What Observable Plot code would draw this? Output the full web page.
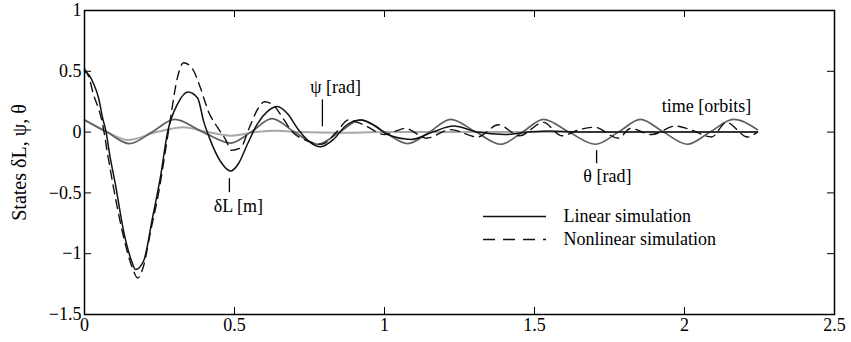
<!DOCTYPE html>
<html><head><meta charset="utf-8">
<script src="https://cdn.jsdelivr.net/npm/d3@7"></script>
<script src="https://cdn.jsdelivr.net/npm/@observablehq/plot@0.6"></script>
<style>
body{margin:0;background:#fff;}
#chart{width:851px;height:342px;}
</style>
</head><body><div id="chart"></div>
<script>
// ---- data ----
const xTicks = [0, 0.5, 1, 1.5, 2, 2.5];
const yTicks = [-1.5, -1, -0.5, 0, 0.5, 1];

// δL, linear simulation (black solid)
const dLLinT = [0, 0.015, 0.03, 0.047, 0.06, 0.072, 0.085, 0.103, 0.13, 0.16, 0.17, 0.197, 0.227, 0.253, 0.277, 0.31, 0.345, 0.377, 0.397, 0.42, 0.453, 0.487, 0.513, 0.543, 0.577, 0.61, 0.643, 0.677, 0.71, 0.75, 0.787, 0.83, 0.87, 0.92, 0.97, 1.01, 1.09, 1.16, 1.23, 1.31, 1.40, 1.48, 1.55, 1.65, 2.243];
const dLLinV = [0.5, 0.47, 0.4, 0.28, 0.12, 0.0, -0.2, -0.43, -0.81, -1.08, -1.13, -1.06, -0.7, -0.37, 0.0, 0.23, 0.33, 0.28, 0.09, -0.07, -0.24, -0.32, -0.26, -0.1, 0.07, 0.17, 0.21, 0.15, 0.03, -0.08, -0.12, -0.06, 0.05, 0.1, 0.05, -0.02, -0.06, 0.0, 0.05, 0.0, -0.02, 0.0, 0.01, 0.0, 0.0];

// δL, nonlinear simulation (black dashed)
const dLNonT = [0, 0.015, 0.03, 0.047, 0.06, 0.077, 0.1, 0.13, 0.16, 0.177, 0.197, 0.22, 0.247, 0.27, 0.287, 0.31, 0.33, 0.36, 0.387, 0.413, 0.443, 0.47, 0.49, 0.52, 0.55, 0.58, 0.60, 0.63, 0.66, 0.69, 0.74, 0.79, 0.84, 0.88, 0.93, 1.0, 1.07, 1.14, 1.22, 1.31, 1.38, 1.45, 1.53, 1.59, 1.65, 1.70, 1.78, 1.82, 1.89, 1.97, 2.02, 2.09, 2.14, 2.21, 2.243];
const dLNonV = [0.52, 0.45, 0.31, 0.19, 0.07, -0.18, -0.5, -0.86, -1.12, -1.2, -1.1, -0.82, -0.5, -0.15, 0.12, 0.45, 0.57, 0.52, 0.36, 0.17, 0.04, -0.06, -0.15, -0.13, 0.04, 0.2, 0.25, 0.22, 0.12, 0.01, -0.07, -0.1, 0.0, 0.1, 0.06, -0.02, 0.03, -0.05, 0.02, -0.04, 0.06, -0.03, 0.08, -0.03, 0.02, 0.04, -0.05, 0.03, -0.02, 0.05, 0.02, -0.04, 0.08, -0.04, 0.0];

// θ (dark grey)
const thetaT = [0, 0.075, 0.15, 0.225, 0.30, 0.395, 0.487, 0.555, 0.625, 0.70, 0.777, 0.85, 0.92, 1.0, 1.077, 1.15, 1.22, 1.305, 1.387, 1.46, 1.53, 1.615, 1.703, 1.78, 1.853, 1.93, 2.01, 2.085, 2.163, 2.243];
const thetaV = [0.1, 0.0, -0.095, 0.0, 0.105, 0.0, -0.09, 0.0, 0.11, 0.0, -0.1, 0.0, 0.1, 0.0, -0.095, 0.0, 0.105, 0.0, -0.1, 0.0, 0.105, 0.0, -0.1, 0.0, 0.105, 0.0, -0.1, 0.0, 0.105, 0.02];

// ψ (light grey)
const psiT = [0, 0.075, 0.145, 0.24, 0.33, 0.41, 0.49, 0.57, 0.64, 0.72, 0.85, 1.0, 2.243];
const psiV = [0.1, 0.0, -0.065, 0.0, 0.04, 0.0, -0.03, 0.0, 0.012, 0.0, -0.005, 0.0, 0.0];

const yLabel = "States δL, ψ, θ";
const annoText = ["ψ [rad]", "δL [m]", "θ [rad]", "time [orbits]"];
const legendLabels = ["Linear simulation", "Nonlinear simulation"];

// ---- build rows ----
const rows = (T, V) => T.map((t, i) => ({t, v: V[i]}));
const dLLin = rows(dLLinT, dLLinV);
const dLNon = rows(dLNonT, dLNonV);
const theta = rows(thetaT, thetaV);
const psi = rows(psiT, psiV);

// ---- layout ----
const W = 851, H = 342, mL = 84, mR = 17, mT = 10, mB = 28;
const plotH = H - mT - mB, plotW = W - mL - mR, tick = 7;
const fmt = d => String(d).replace("-", "\u2212");

// annotation placement (data coordinates)
const annos = [
  {text: annoText[0], x: 0.837, y: 0.365, lx: 0.793, ly1: 0.265, ly2: 0.044},
  {text: annoText[1], x: 0.513, y: -0.613, lx: 0.483, ly1: -0.383, ly2: -0.498},
  {text: annoText[2], x: 1.743, y: -0.36, lx: 1.707, ly1: -0.153, ly2: -0.26},
  {text: annoText[3], x: 2.073, y: 0.216}
];
const legendSolid = [{label: legendLabels[0], y: -0.695}];
const legendDashed = [{label: legendLabels[1], y: -0.884}];

const chart = Plot.plot({
  width: W, height: H,
  marginLeft: mL, marginRight: mR, marginTop: mT, marginBottom: mB,
  style: {fontFamily: "'Liberation Serif', 'Times New Roman', serif", fontSize: "18px", background: "#fff", color: "#000"},
  x: {domain: [0, 2.5]},
  y: {domain: [-1.5, 1]},
  marks: [
    Plot.line(psi, {x: "t", y: "v", stroke: "#a8a8a8", strokeWidth: 2, curve: "monotone-x"}),
    Plot.line(theta, {x: "t", y: "v", stroke: "#606060", strokeWidth: 1.7, curve: "monotone-x"}),
    Plot.line(dLLin, {x: "t", y: "v", stroke: "#111", strokeWidth: 1.5, curve: "monotone-x"}),
    Plot.line(dLNon, {x: "t", y: "v", stroke: "#111", strokeWidth: 1.4, strokeDasharray: "9,6", curve: "monotone-x"}),
    Plot.frame({stroke: "#000", strokeWidth: 1.5}),
    Plot.tickX(xTicks, {x: d => d, insetTop: plotH - tick, stroke: "#000"}),
    Plot.tickX(xTicks, {x: d => d, insetBottom: plotH - tick, stroke: "#000"}),
    Plot.tickY(yTicks, {y: d => d, insetRight: plotW - tick, stroke: "#000"}),
    Plot.tickY(yTicks, {y: d => d, insetLeft: plotW - tick, stroke: "#000"}),
    Plot.axisX(xTicks, {tickSize: 0, tickPadding: 4, tickFormat: fmt, label: null}),
    Plot.axisY(yTicks, {tickSize: 0, tickPadding: 3, tickFormat: fmt, label: null}),
    Plot.text([yLabel], {frameAnchor: "left", textAnchor: "middle", dx: -65, rotate: -90, fontSize: 20, fill: "#000"}),
    // annotations
    Plot.text(annos, {x: "x", y: "y", text: "text", fill: "#000", fontSize: 18}),
    Plot.ruleX(annos.filter(d => d.lx != null), {x: "lx", y1: "ly1", y2: "ly2", stroke: "#000", strokeWidth: 1.3}),
    // legend
    Plot.ruleY(legendSolid, {y: "y", x1: 1.33, x2: 1.54, stroke: "#111", strokeWidth: 1.5}),
    Plot.ruleY(legendDashed, {y: "y", x1: 1.33, x2: 1.54, stroke: "#111", strokeWidth: 1.5, strokeDasharray: "12,8"}),
    Plot.text(legendSolid.concat(legendDashed), {x: 1.597, y: "y", text: "label", textAnchor: "start", fill: "#000", fontSize: 18})
  ]
});
document.getElementById("chart").appendChild(chart);
</script>
</body></html>
